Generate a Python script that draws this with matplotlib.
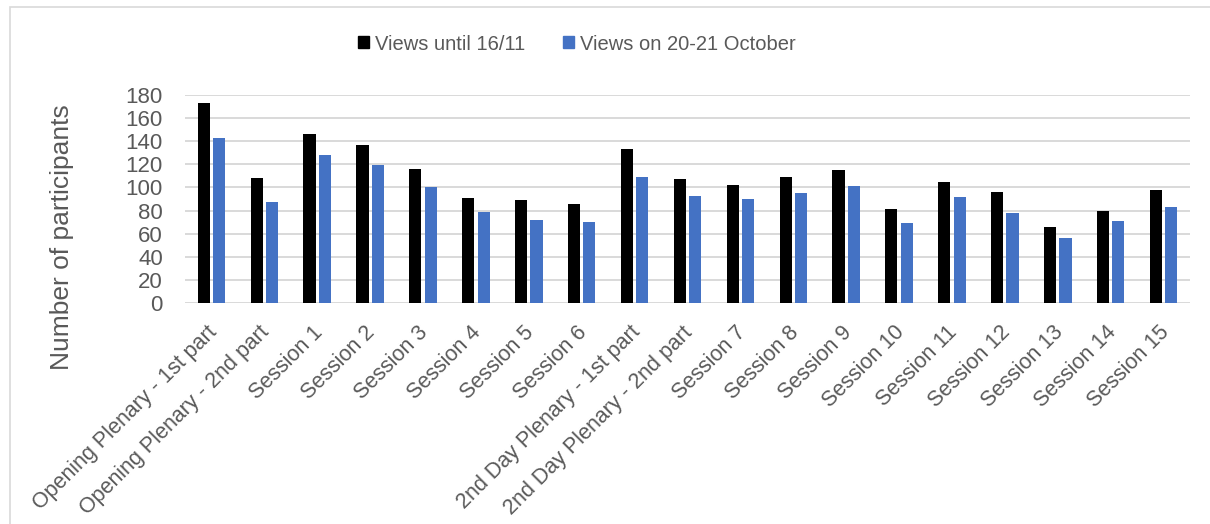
import numpy as np
import matplotlib.pyplot as plt
from matplotlib.patches import Patch, Rectangle
from matplotlib.transforms import ScaledTranslation

sessions = ['Opening Plenary - 1st part', 'Opening Plenary - 2nd part',
            'Session 1', 'Session 2', 'Session 3', 'Session 4', 'Session 5',
            'Session 6', '2nd Day Plenary - 1st part', '2nd Day Plenary - 2nd part',
            'Session 7', 'Session 8', 'Session 9', 'Session 10', 'Session 11',
            'Session 12', 'Session 13', 'Session 14', 'Session 15']
views_until = [173, 108, 146, 137, 116, 91, 89, 86, 133, 107, 102, 109, 115, 81, 105, 96, 66, 80, 98]
views_live = [143, 87, 128, 119, 100, 79, 72, 70, 109, 93, 90, 95, 101, 69, 92, 78, 56, 71, 83]
yticks = list(range(0, 181, 20))

GREY = '#595959'
BLUE = '#4472C4'
plt.rcParams['font.family'] = ['Liberation Sans', 'DejaVu Sans']

fig = plt.figure(figsize=(12.1, 5.24), dpi=100)
W, H = 1210, 524
ax = fig.add_axes([185 / W, 1 - 303 / H, 1005 / W, 208 / H])

# chart area frame (left and top edges visible)
fig.patches.append(Rectangle((10 / W, -0.1), 1.2, 1 - 7 / H + 0.1, transform=fig.transFigure,
                             fill=False, edgecolor='#d9d9d9', linewidth=1.2))

x = np.arange(len(sessions))
w = 0.23
ax.bar(x - 0.145, views_until, w, color='black', zorder=3)
ax.bar(x + 0.145, views_live, w, color=BLUE, zorder=3)

ax.set_xlim(-0.5, len(sessions) - 0.5)
ax.set_ylim(0, 180)
ax.set_yticks(yticks)
ax.yaxis.grid(True, color='#d9d9d9', linewidth=1.4, zorder=0)
for s in ax.spines.values():
    s.set_visible(False)
ax.tick_params(axis='y', length=0, pad=16, labelsize=16, labelcolor=GREY)
ax.tick_params(axis='x', length=0, pad=19, labelsize=15.5, labelcolor=GREY)
ax.set_xticks(x, sessions, rotation=45, ha='right', va='center', rotation_mode='anchor')
shift = ScaledTranslation(1.5 / 72, 0, fig.dpi_scale_trans)
for lab in ax.get_xticklabels():
    lab.set_transform(lab.get_transform() + shift)

fig.text(62 / W, 1 - 237 / H, 'Number of participants', rotation=90, fontsize=19,
         color=GREY, ha='center', va='center')

handles = [Patch(color='black', label='Views until 16/11'),
           Patch(color=BLUE, label='Views on 20-21 October')]
fig.legend(handles=handles, loc='center', bbox_to_anchor=(577 / W, 1 - 44 / H), ncol=2,
           frameon=False, fontsize=14.5, labelcolor=GREY, handlelength=0.55, handleheight=0.55,
           handletextpad=0.3, columnspacing=1.85)

fig.savefig('out.png', dpi=100, facecolor='white')
